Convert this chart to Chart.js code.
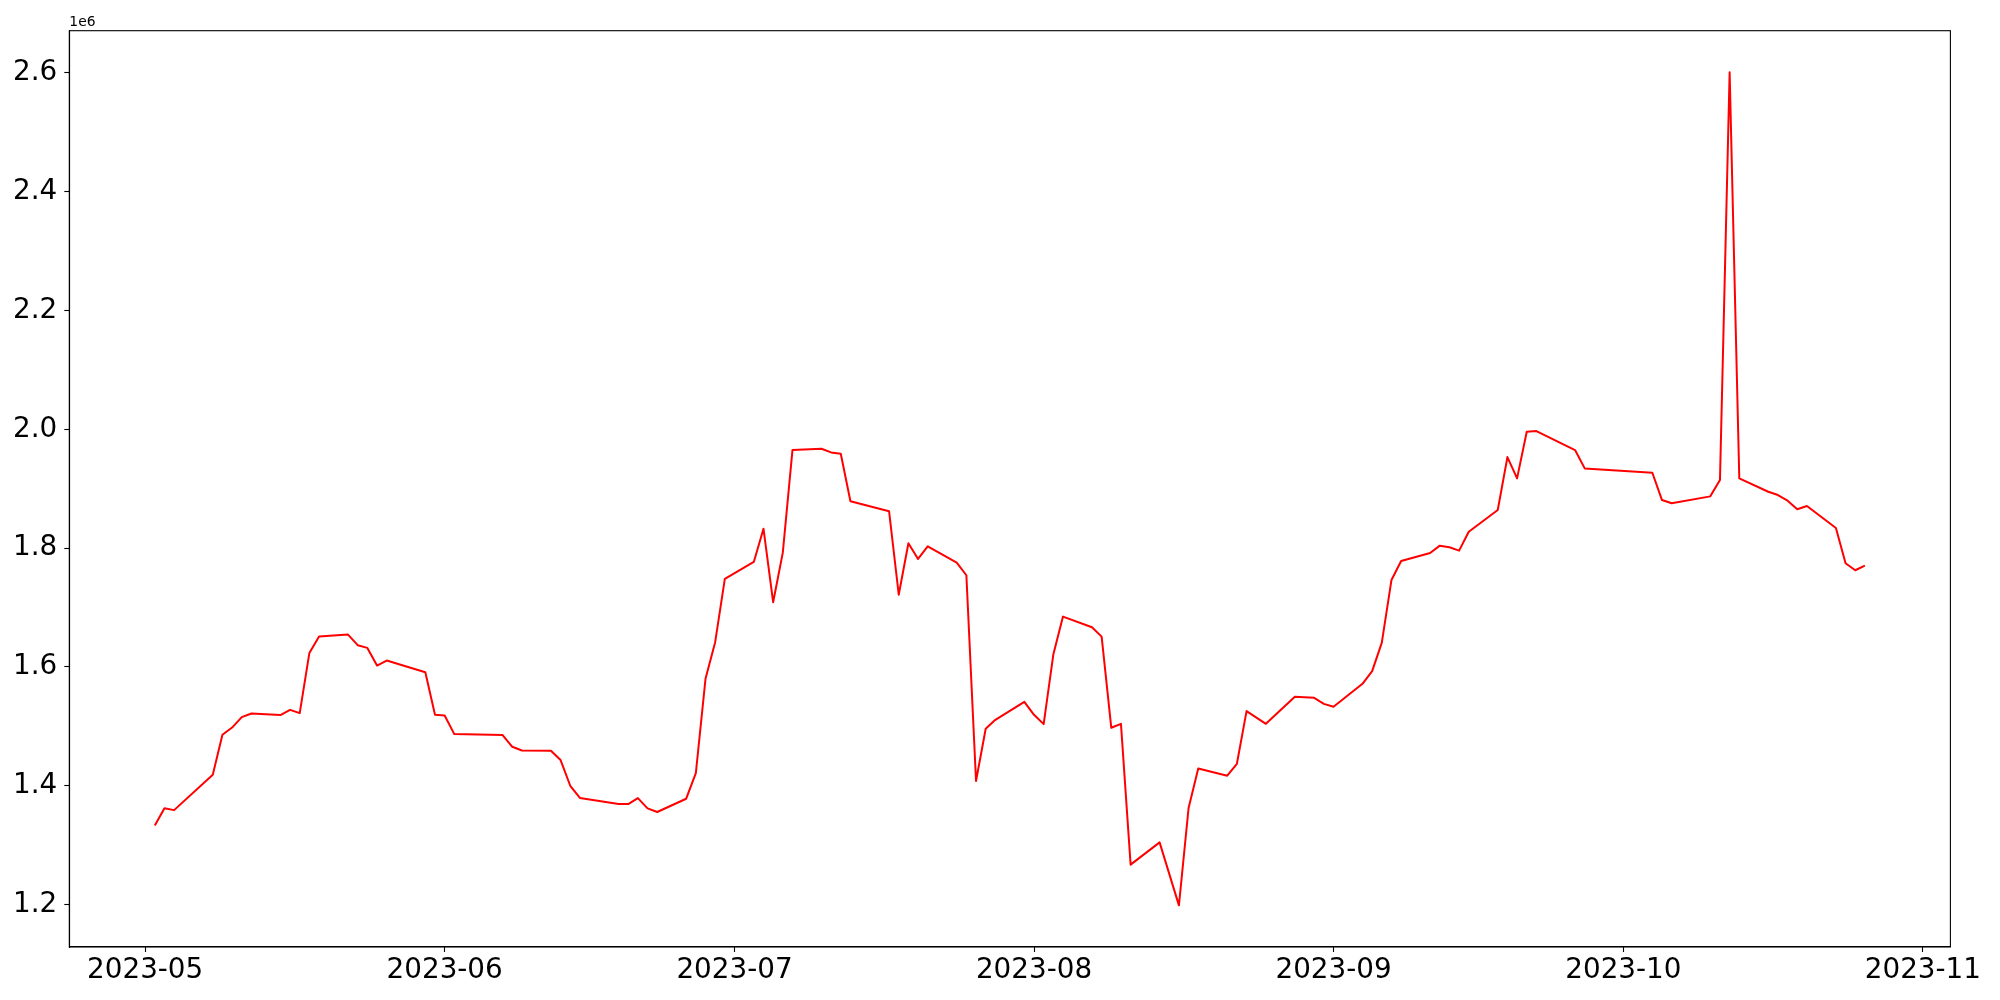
<!DOCTYPE html>
<html>
<head>
<meta charset="utf-8">
<script src="https://cdn.jsdelivr.net/npm/chart.js@4/dist/chart.umd.min.js"></script>
<style>
  html, body { margin: 0; padding: 0; background: #fff; }
  canvas { display: block; }
</style>
</head>
<body>
<canvas id="volumeChart" width="2000" height="1000"></canvas>
<script>
// Daily values
const dates = [
  '2023-05-02', '2023-05-03', '2023-05-04', '2023-05-08', '2023-05-09', '2023-05-10', '2023-05-11', '2023-05-12',
  '2023-05-15', '2023-05-16', '2023-05-17', '2023-05-18', '2023-05-19', '2023-05-22', '2023-05-23', '2023-05-24',
  '2023-05-25', '2023-05-26', '2023-05-30', '2023-05-31', '2023-06-01', '2023-06-02', '2023-06-07', '2023-06-08',
  '2023-06-09', '2023-06-12', '2023-06-13', '2023-06-14', '2023-06-15', '2023-06-19', '2023-06-20', '2023-06-21',
  '2023-06-22', '2023-06-23', '2023-06-26', '2023-06-27', '2023-06-28', '2023-06-29', '2023-06-30', '2023-07-03',
  '2023-07-04', '2023-07-05', '2023-07-06', '2023-07-07', '2023-07-10', '2023-07-11', '2023-07-12', '2023-07-13',
  '2023-07-17', '2023-07-18', '2023-07-19', '2023-07-20', '2023-07-21', '2023-07-24', '2023-07-25', '2023-07-26',
  '2023-07-27', '2023-07-28', '2023-07-31', '2023-08-01', '2023-08-02', '2023-08-03', '2023-08-04', '2023-08-07',
  '2023-08-08', '2023-08-09', '2023-08-10', '2023-08-11', '2023-08-14', '2023-08-16', '2023-08-17', '2023-08-18',
  '2023-08-21', '2023-08-22', '2023-08-23', '2023-08-25', '2023-08-28', '2023-08-30', '2023-08-31', '2023-09-01',
  '2023-09-04', '2023-09-05', '2023-09-06', '2023-09-07', '2023-09-08', '2023-09-11', '2023-09-12', '2023-09-13',
  '2023-09-14', '2023-09-15', '2023-09-18', '2023-09-19', '2023-09-20', '2023-09-21', '2023-09-22', '2023-09-26',
  '2023-09-27', '2023-10-04', '2023-10-05', '2023-10-06', '2023-10-10', '2023-10-11', '2023-10-12', '2023-10-13',
  '2023-10-16', '2023-10-17', '2023-10-18', '2023-10-19', '2023-10-20', '2023-10-23', '2023-10-24', '2023-10-25',
  '2023-10-26'
];

const values = [
  1333000, 1362000, 1359000, 1418500, 1486000, 1498000, 1515600, 1521600,
  1519000, 1527800, 1522300, 1623700, 1651100, 1654500, 1636700, 1632100,
  1602400, 1610800, 1591200, 1519500, 1518300, 1487000, 1485300, 1465600,
  1459400, 1458900, 1443300, 1400000, 1379500, 1369200, 1369200, 1379300,
  1361900, 1355800, 1378200, 1421400, 1580000, 1641700, 1748200, 1776800,
  1832800, 1709000, 1792400, 1965100, 1967300, 1961200, 1958900, 1878900,
  1862000, 1721600, 1808200, 1781800, 1803100, 1775600, 1754400, 1408000,
  1495900, 1511000, 1541300, 1519400, 1503800, 1620900, 1684800, 1666900,
  1651100, 1497600, 1504300, 1267200, 1304700, 1198700, 1362600, 1429200,
  1416900, 1437000, 1525700, 1504300, 1549700, 1548000, 1537900, 1532900,
  1571600, 1592900, 1641000, 1746500, 1778400, 1791900, 1804200, 1801500,
  1795800, 1827700, 1864200, 1953300, 1917500, 1995900, 1997100, 1965100,
  1934300, 1927000, 1881000, 1875500, 1887200, 1914700, 2601000, 1917500,
  1895000, 1889400, 1879900, 1865400, 1870900, 1833900, 1774500, 1762800,
  1770500
];

const monthTicks = ['2023-05', '2023-06', '2023-07', '2023-08', '2023-09', '2023-10', '2023-11'];
const yTicks = [1200000, 1400000, 1600000, 1800000, 2000000, 2200000, 2400000, 2600000];

const toMs = s => {
  const p = s.split('-').map(Number);
  return Date.UTC(p[0], p[1] - 1, p[2] || 1);
};

const points = dates.map((d, i) => ({ x: toMs(d), y: values[i] }));

// matplotlib-style 5% margins around the data
const xMin = Math.min(...points.map(p => p.x));
const xMax = Math.max(...points.map(p => p.x));
const yMin = Math.min(...values);
const yMax = Math.max(...values);
const xPad = (xMax - xMin) * 0.05;
const yPad = (yMax - yMin) * 0.05;

const tickFont = { family: 'DejaVu Sans', size: 27.8 };

// frame on all four sides plus the "1e6" offset label
const framePlugin = {
  id: 'frame',
  afterDraw(chart) {
    const { ctx, chartArea: a } = chart;
    ctx.save();
    ctx.strokeStyle = '#000';
    ctx.lineWidth = 1.1;
    ctx.strokeRect(a.left, a.top, a.right - a.left, a.bottom - a.top);
    ctx.fillStyle = '#000';
    ctx.font = '13.9px "DejaVu Sans"';
    ctx.textAlign = 'left';
    ctx.textBaseline = 'alphabetic';
    ctx.fillText('1e6', a.left, a.top - 4.5);
    ctx.restore();
  }
};

new Chart(document.getElementById('volumeChart'), {
  type: 'line',
  data: {
    datasets: [{
      data: points,
      borderColor: '#ff0000',
      borderWidth: 2,
      pointRadius: 0,
      tension: 0,
      borderJoinStyle: 'round',
      fill: false
    }]
  },
  options: {
    responsive: false,
    animation: false,
    devicePixelRatio: 1,
    layout: { padding: { top: 30.7, right: 49.6, left: 0, bottom: 0 } },
    plugins: { legend: { display: false }, tooltip: { enabled: false } },
    scales: {
      x: {
        type: 'linear',
        min: xMin - xPad,
        max: xMax + xPad,
        afterBuildTicks(axis) { axis.ticks = monthTicks.map(m => ({ value: toMs(m) })); },
        afterFit(axis) { axis.height = 53; },
        ticks: {
          color: '#000',
          font: tickFont,
          padding: 2,
          maxRotation: 0,
          autoSkip: false,
          callback(v) {
            const d = new Date(v);
            return d.getUTCFullYear() + '-' + String(d.getUTCMonth() + 1).padStart(2, '0');
          }
        },
        grid: { drawOnChartArea: false, tickLength: 5, tickWidth: 1.1, tickColor: '#000' },
        border: { color: '#000', width: 1.1 }
      },
      y: {
        min: yMin - yPad,
        max: yMax + yPad,
        afterBuildTicks(axis) { axis.ticks = yTicks.map(v => ({ value: v })); },
        afterFit(axis) { axis.width = 69.3; },
        ticks: {
          color: '#000',
          font: tickFont,
          padding: 7,
          autoSkip: false,
          callback: v => (v / 1e6).toFixed(1)
        },
        grid: { drawOnChartArea: false, tickLength: 5, tickWidth: 1.1, tickColor: '#000' },
        border: { color: '#000', width: 1.1 }
      }
    }
  },
  plugins: [framePlugin]
});
</script>
</body>
</html>
